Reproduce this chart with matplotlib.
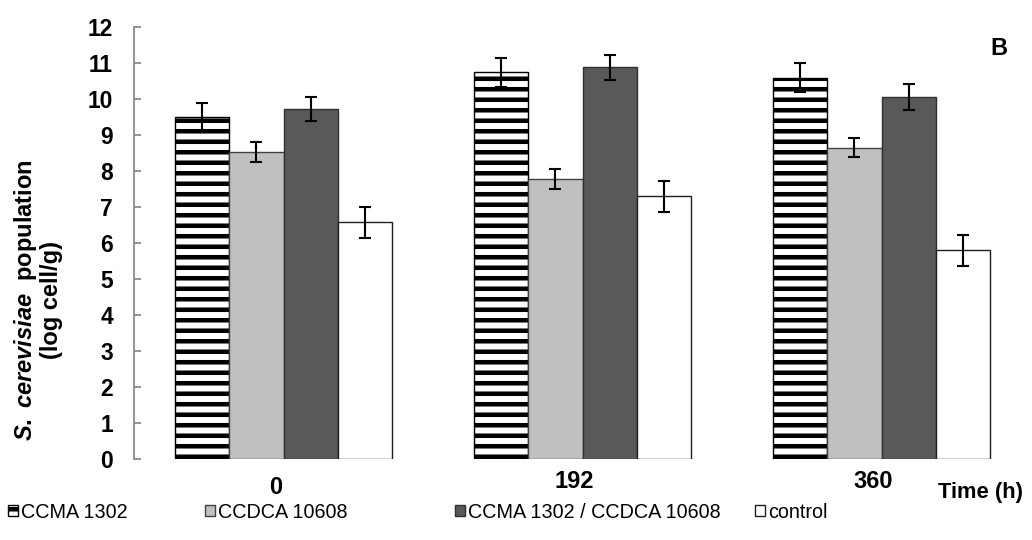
import matplotlib
matplotlib.use("Agg")
import matplotlib.pyplot as plt
import matplotlib.transforms as mtransforms
import numpy as np

# ---- data ----
time_labels = ["0", "192", "360"]
series_names = ["CCMA 1302", "CCDCA 10608", "CCMA 1302 / CCDCA 10608", "control"]
ccma_1302 = [9.49, 10.74, 10.59]
ccdca_10608 = [8.53, 7.78, 8.65]
mixed = [9.72, 10.88, 10.05]
control = [6.57, 7.30, 5.80]
ccma_1302_err = [0.40, 0.40, 0.40]
ccdca_10608_err = [0.27, 0.27, 0.27]
mixed_err = [0.33, 0.35, 0.36]
control_err = [0.43, 0.43, 0.43]
y_ticks = list(range(0, 13))

values = [ccma_1302, ccdca_10608, mixed, control]
errors = [ccma_1302_err, ccdca_10608_err, mixed_err, control_err]

plt.rcParams['font.family'] = ['Liberation Sans', 'DejaVu Sans']
plt.rcParams['hatch.linewidth'] = 2.6
plt.rcParams['mathtext.fontset'] = 'custom'
plt.rcParams['mathtext.it'] = 'Liberation Sans:italic:bold'
plt.rcParams['mathtext.rm'] = 'Liberation Sans:bold'

DPI = 126
fig = plt.figure(figsize=(1032 / DPI, 540 / DPI), dpi=DPI)
ax = fig.add_axes([134 / 1032, 81 / 540, 897 / 1032, 432 / 540])

styles = [
    dict(facecolor="white", edgecolor="black", hatch="--"),
    dict(facecolor="#c0c0c0", edgecolor="#404040"),
    dict(facecolor="#595959", edgecolor="#303030"),
    dict(facecolor="white", edgecolor="#202020"),
]

x = np.arange(len(time_labels))
w = 0.1816
offsets = [-1.5, -0.5, 0.5, 1.5]
bars = []
for vals, errs, off, st, name in zip(values, errors, offsets, styles, series_names):
    b = ax.bar(x + off * w, vals, w, linewidth=0.8, label=name, zorder=2, **st)
    ax.errorbar(x + off * w, vals, yerr=errs, fmt="none", ecolor="black",
                elinewidth=1.2, capsize=3.6, capthick=1.2, zorder=3)
    bars.append(b)

ax.set_xlim(-0.5, 2.5)
ax.set_ylim(0, 12)
ax.set_yticks(y_ticks)
ax.set_yticklabels([str(t) for t in y_ticks], fontsize=13, fontweight="bold")
ax.tick_params(axis="y", direction="in", length=4, width=1.0, color="#888888", pad=12)
ax.set_xticks(x)
ax.set_xticklabels(time_labels, fontsize=13.5, fontweight="bold")
ax.tick_params(axis="x", length=0, pad=6)
for i, lab in enumerate(ax.get_xticklabels()):
    lab.set_transform(lab.get_transform() + mtransforms.ScaledTranslation(
        -8 / DPI, (-6 / DPI) if i == 0 else 0, fig.dpi_scale_trans))

for s in ["top", "right", "bottom"]:
    ax.spines[s].set_visible(False)
ax.spines["left"].set_color("#888888")
ax.spines["left"].set_linewidth(1.0)

ax.set_ylabel(r"$\it{S.}$ $\it{cerevisiae}$  population" + "\n(log cell/g)",
              fontsize=13.5, fontweight="bold", linespacing=1.05)
ax.yaxis.label.set_va("center")
ax.yaxis.label.set_ha("center")
ax.yaxis.set_label_coords((37.5 - 134) / 897, (459 - 300) / 432)

ax.text(2.393, 11.39, "B", fontsize=13.5, fontweight="bold", ha="center", va="center")
ax.text(2.33, -0.944, "Time (h)", fontsize=12.5, fontweight="bold", ha="center",
        va="center", clip_on=False)

legend_x = [8, 205, 455, 755]
for b, name, lx in zip(bars, series_names, legend_x):
    fig.legend([b], [name], loc="center left", bbox_to_anchor=(lx / 1032, 1 - 512 / 540),
               frameon=False, fontsize=11.3, handlelength=0.5, handleheight=0.5,
               handletextpad=0.15, borderpad=0, borderaxespad=0)

fig.savefig("out.png", dpi=DPI)
